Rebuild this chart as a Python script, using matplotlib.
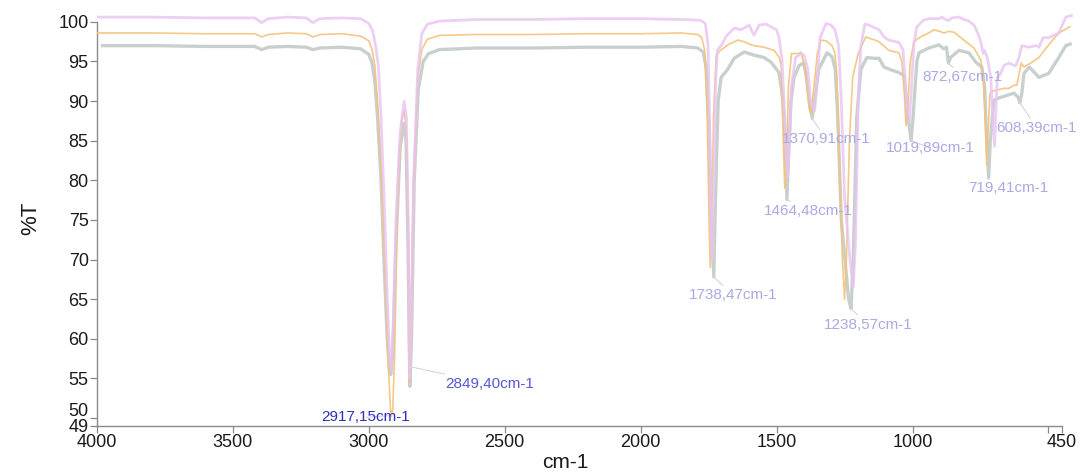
import matplotlib
matplotlib.use("Agg")
import matplotlib.pyplot as plt
from matplotlib.transforms import ScaledTranslation

plt.rcParams['font.family'] = ['Liberation Sans', 'DejaVu Sans']

# spectra (wavenumber cm-1, %T)
pink_wn = [4000, 3800, 3600, 3420, 3394, 3370, 3300, 3230, 3206, 3180, 3100, 3030, 3000, 2985,
           2975, 2965, 2955, 2942, 2930, 2922, 2917, 2910, 2900, 2885, 2870, 2862, 2855, 2850, 2844,
           2835, 2820, 2805, 2785, 2740, 2600, 2400, 2200, 2000, 1850, 1780, 1762, 1752, 1745,
           1740, 1736, 1731, 1725, 1718, 1700, 1685, 1656, 1630, 1601, 1583, 1564, 1538, 1516,
           1500, 1491, 1480, 1470, 1460, 1452, 1445, 1430, 1410, 1399, 1385, 1375, 1360, 1352,
           1340, 1318, 1300, 1285, 1272, 1262, 1250, 1230, 1218, 1210, 1200, 1190, 1175, 1160,
           1123, 1105, 1087, 1050, 1035, 1028, 1020, 1012, 1005, 995, 985, 960, 940, 903, 892,
           873, 866, 855, 829, 811, 793, 774, 760, 749, 740, 735, 725, 712, 705, 698, 692, 688,
           675, 664, 646, 627, 620, 608, 598, 572, 545, 535, 520, 499, 462, 436, 415]
pink_t = [100.6, 100.6, 100.5, 100.5, 99.9, 100.4, 100.6, 100.5, 99.9, 100.4, 100.5, 100.4, 99.8, 98.8,
          97.0, 94.5, 88.0, 76.0, 63.0, 57.0, 56.0, 62.0, 75.0, 86.0, 90.0, 88.0, 75.0, 55.0, 62.0,
          80.0, 94.0, 98.5, 99.7, 100.1, 100.3, 100.3, 100.4, 100.4, 100.3, 100.2, 99.8, 97.0, 85.0,
          72.0, 70.0, 78.0, 92.0, 96.4, 97.2, 98.2, 99.2, 99.0, 99.6, 98.3, 99.6, 99.7, 99.3,
          99.0, 98.0, 95.2, 88.0, 80.5, 85.0, 92.0, 95.5, 96.0, 95.8, 94.0, 90.0, 88.8, 92.0,
          98.0, 99.8, 99.6, 99.0, 97.0, 90.0, 78.0, 70.0, 66.5, 72.0, 90.0, 97.0, 99.7, 99.6,
          99.0, 98.1, 97.7, 97.4, 96.5, 93.0, 89.0, 87.5, 91.0, 97.0, 99.3, 100.2, 100.4, 100.4, 100.6,
          100.2, 100.2, 100.5, 100.6, 100.3, 100.1, 99.6, 98.6, 97.5, 96.0, 96.4, 95.5, 93.0, 88.0, 84.3, 90.0, 93.0,
          93.5, 94.5, 94.8, 94.5, 94.5, 95.5, 97.0, 96.8, 97.0, 96.8, 98.0, 98.0, 98.6, 100.6, 100.8]

orange_wn = [4000, 3800, 3600, 3420, 3394, 3370, 3300, 3230, 3206, 3180, 3100, 3030, 3000, 2988,
             2978, 2968, 2955, 2942, 2930, 2921, 2917, 2912, 2905, 2895, 2880, 2870, 2862, 2855, 2851,
             2845, 2835, 2820, 2805, 2785, 2740, 2600, 2400, 2200, 2000, 1850, 1790, 1775, 1765,
             1755, 1748, 1744, 1739, 1732, 1722, 1710, 1679, 1642, 1620, 1601, 1583, 1546, 1509,
             1490, 1483, 1478, 1470, 1464, 1456, 1445, 1420, 1410, 1395, 1380, 1373, 1365, 1350,
             1337, 1318, 1296, 1285, 1278, 1268, 1258, 1250, 1243, 1232, 1220, 1200, 1172, 1123,
             1087, 1050, 1039, 1030, 1024, 1018, 1008, 995, 976, 940, 921, 900, 885, 866, 848,
             829, 811, 774, 749, 740, 733, 727, 722, 715, 701, 664, 646, 627, 616, 600, 590, 565,
             535, 499, 462, 420]
orange_t = [98.6, 98.6, 98.5, 98.5, 98.1, 98.4, 98.6, 98.5, 98.1, 98.4, 98.5, 98.2, 97.6, 96.5,
            94.5, 90.0, 82.0, 70.0, 58.0, 51.5, 50.2, 51.0, 58.0, 76.0, 87.5, 88.8, 86.5, 72.0, 54.5,
            61.0, 80.0, 93.0, 96.5, 97.8, 98.3, 98.4, 98.4, 98.5, 98.5, 98.6, 98.4, 98.0, 96.5,
            88.0, 74.0, 69.0, 73.0, 88.0, 95.8, 96.3, 97.1, 97.7, 97.5, 97.2, 97.0, 96.8, 96.4,
            95.5, 94.5, 88.0, 79.0, 82.0, 92.0, 96.0, 96.0, 96.2, 94.0, 89.0, 88.4, 91.0, 96.0,
            97.7, 97.6, 97.0, 96.0, 93.0, 82.0, 70.0, 65.0, 70.0, 85.0, 93.0, 96.0, 98.1, 97.5,
            96.4, 96.1, 95.0, 91.0, 86.9, 89.0, 95.0, 97.5, 98.0, 98.6, 99.0, 98.8, 98.6, 98.8, 98.7,
            98.2, 97.7, 96.7, 95.2, 93.0, 88.0, 82.0, 86.0, 91.0, 91.3, 91.6, 91.6, 92.0, 92.0, 94.8, 94.3, 94.8,
            95.5, 97.1, 98.6, 99.4]

gray_wn = [3980, 3800, 3600, 3420, 3394, 3370, 3300, 3230, 3206, 3180, 3100, 3030, 3000, 2988,
           2978, 2968, 2955, 2942, 2932, 2924, 2919, 2912, 2900, 2885, 2872, 2863, 2856, 2849, 2843,
           2833, 2818, 2800, 2780, 2740, 2600, 2400, 2200, 2000, 1850, 1790, 1770, 1758, 1748,
           1740, 1731, 1726, 1715, 1704, 1682, 1656, 1619, 1583, 1546, 1520, 1491, 1480, 1472,
           1462, 1455, 1447, 1436, 1417, 1400, 1390, 1380, 1369, 1360, 1345, 1314, 1296, 1284,
           1275, 1262, 1235, 1226, 1218, 1205, 1190, 1168, 1140, 1123, 1105, 1076, 1050, 1031,
           1020, 1005, 998, 984, 976, 940, 903, 885, 875, 868, 860, 829, 793, 767, 745, 735,
           728, 720, 714, 706, 701, 682, 664, 627, 612, 605, 598, 590, 570, 535, 499, 462, 436, 420]
gray_t = [97.0, 97.0, 96.9, 96.9, 96.5, 96.8, 96.9, 96.8, 96.5, 96.7, 96.8, 96.6, 95.9, 94.8,
          92.5, 88.0, 80.0, 68.0, 60.0, 56.0, 55.5, 58.0, 72.0, 84.0, 87.2, 85.0, 72.0, 54.0, 60.0,
          80.0, 91.5, 95.0, 96.0, 96.5, 96.7, 96.7, 96.8, 96.8, 96.9, 96.7, 96.2, 94.0, 86.0,
          75.0, 67.8, 76.0, 90.0, 93.0, 93.9, 95.4, 96.2, 95.8, 95.5, 94.9, 93.6, 91.0, 88.0,
          77.6, 84.0, 90.0, 93.0, 94.5, 94.8, 93.0, 90.0, 87.8, 90.0, 94.0, 96.1, 95.6, 94.0,
          88.0, 75.0, 65.0, 63.8, 70.0, 88.0, 94.0, 95.5, 95.4, 95.4, 94.3, 93.9, 93.6, 93.2,
          89.0, 85.0, 88.0, 95.0, 96.1, 96.7, 97.1, 96.6, 96.8, 94.8, 95.5, 96.4, 96.1, 94.9, 94.3, 92.0,
          86.0, 80.3, 85.0, 88.0, 90.1, 90.4, 90.6, 91.0, 90.5, 89.8, 91.0, 93.5, 94.3, 93.0, 93.5, 95.5, 97.0, 97.2]

# peak labels: the point marked and its label
peak_labels = ['2917,15cm-1', '2849,40cm-1', '1738,47cm-1', '1464,48cm-1', '1370,91cm-1',
               '1238,57cm-1', '1019,89cm-1', '872,67cm-1', '719,41cm-1', '608,39cm-1']
peak_wn = [2917, 2849, 1731, 1462, 1369, 1226, 1005, 868, 720, 605]
peak_t = [50.3, 56.5, 67.8, 77.6, 87.8, 63.8, 85.0, 94.8, 80.3, 89.8]

xticks = [4000, 3500, 3000, 2500, 2000, 1500, 1000, 500, 450]
xticklabels = ['4000', '3500', '3000', '2500', '2000', '1500', '1000', '', '450']
yticks = [100, 95, 90, 85, 80, 75, 70, 65, 60, 55, 50, 49]

fig = plt.figure(figsize=(10.81, 4.75), dpi=100)
ax = fig.add_axes([0.0897, 0.1032, 0.9028, 0.8758])

ax.plot(gray_wn, gray_t, color='#bfc8c6', lw=2.4, alpha=0.85, zorder=2)
ax.plot(orange_wn, orange_t, color='#f4c27a', lw=1.2, alpha=0.9, zorder=3)
ax.plot(pink_wn, pink_t, color='#e8c4f1', lw=2.0, alpha=0.8, zorder=4)

# label placement (text centre, data units) and colours
text_pos = [(3012, 50.1), (2556, 54.3), (1660, 65.5), (1384, 76.1), (1318, 85.2),
            (1164, 61.8), (936, 84.1), (815, 93.0), (646, 79.0), (543, 86.6)]
text_col = ['#2f2fbf', '#5757d6'] + ['#a9a9e6'] * 8
for lab, wn, t, pos, col in zip(peak_labels, peak_wn, peak_t, text_pos, text_col):
    ax.annotate(lab, xy=(wn, t), xytext=pos, ha='center', va='center',
                fontsize=11, color=col, zorder=5, annotation_clip=False,
                arrowprops=dict(arrowstyle='-', color='#d4d6e0', lw=0.8,
                                shrinkA=0, shrinkB=0))

ax.set_xlim(4000, 410)
ax.set_ylim(49, 101.5)
ax.set_xticks(xticks)
ax.set_xticklabels(xticklabels)
ax.set_yticks(yticks)
ax.set_yticklabels([str(v) for v in yticks])

for s in ['top', 'right']:
    ax.spines[s].set_visible(False)
for s in ['left', 'bottom']:
    ax.spines[s].set_color('#8a8a8a')
    ax.spines[s].set_linewidth(1.0)
ax.spines['left'].set_bounds(49, 100)
ax.spines['bottom'].set_bounds(4000, 450)
ax.tick_params(axis='both', direction='out', length=5, width=0.9, color='#8a8a8a',
               labelsize=13, labelcolor='#1a1a1a', pad=1)

# push the crowded "50" label up a little
for lbl in ax.get_yticklabels():
    if lbl.get_text() == '50':
        lbl.set_transform(lbl.get_transform() + ScaledTranslation(0, 9 / 100, fig.dpi_scale_trans))

ax.set_ylabel('%T', fontsize=16, color='#1a1a1a', labelpad=12)
ax.set_xlabel('cm-1', fontsize=15, color='#1a1a1a')
ax.xaxis.set_label_coords(0.48, -0.066)

fig.savefig('out.png', dpi=100)
